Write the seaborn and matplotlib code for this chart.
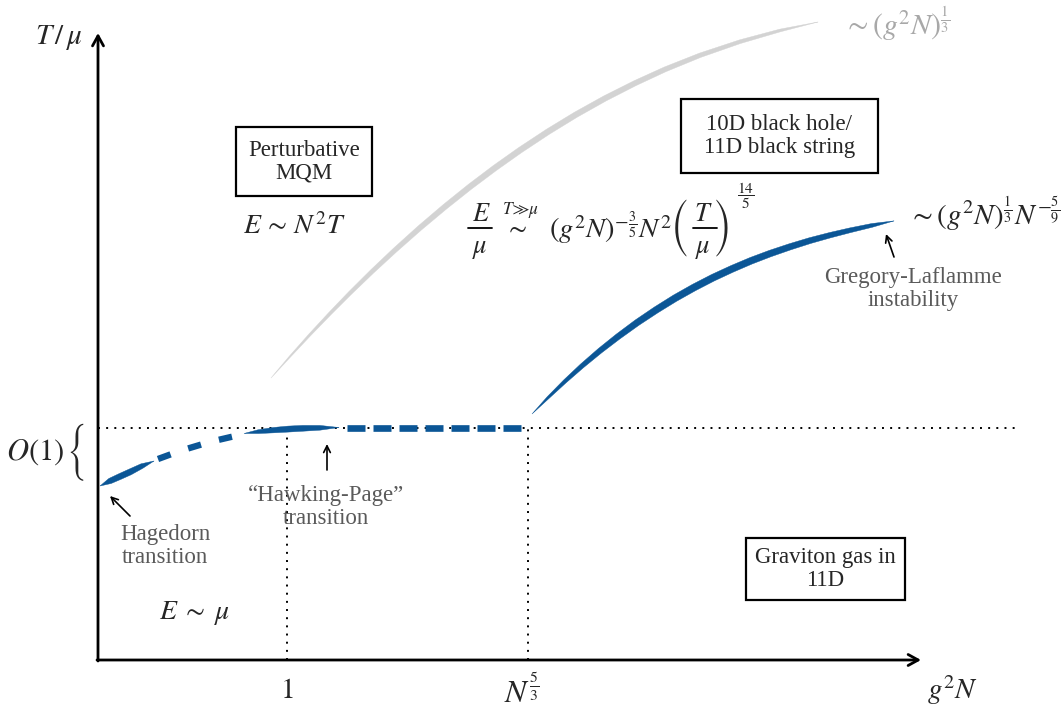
import numpy as np
import matplotlib
matplotlib.use("Agg")
import matplotlib.pyplot as plt
from matplotlib.patches import Rectangle
import seaborn as sns

# ---------------- data (schematic units: origin at axis crossing) ----------------
# gray branch ~ (g^2N)^{1/3}
gray_x = [173, 192, 212, 232, 252, 274, 297, 322, 347, 372, 397, 422, 450, 478, 507, 537, 567, 602, 642, 682, 720]
gray_y = [282, 303.5, 325.4, 346.5, 366.9, 388.4, 409.9, 432.2, 453.3, 473.3, 492.1, 509.8, 528.3, 545.4,
          561.6, 576.8, 590.6, 604.7, 618.3, 629.5, 638]

# blue black-hole branch up to the Gregory-Laflamme point
bh_x = [434, 450, 467, 484, 502, 520, 539, 558, 577, 596, 615, 634, 653, 672, 692, 712, 732, 752, 774, 796]
bh_y = [246, 262.3, 278.7, 294.1, 309.3, 323.4, 337.3, 350, 361.8, 372.5, 382.3, 391.1, 399.2, 406.4,
        413.2, 419.4, 424.8, 429.7, 434.6, 439.1]

# Hagedorn curve pieces
hag1_x = [2, 12, 22, 32, 44, 56]
hag1_y = [174, 179, 183.5, 188, 194, 199]
hag_dash_x = [60, 75, 90, 105, 120, 135, 146]
hag_dash_y = [201, 206.5, 211.5, 216, 220, 223.5, 226]
hag2_x = [146, 160, 175, 190, 205, 222, 241]
hag2_y = [226.5, 228.3, 229.8, 230.9, 231.7, 232.2, 232.5]
hp_dash_x = [249, 424]
hp_dash_y = [232, 232]

# reference lines
o1_level = 232
o1_line_x = [0, 917]
one_x = 189
n53_x = 430

x_tick_pos = [189, 424]
x_tick_labels = [r"$1$", r"$N^{\frac{5}{3}}$"]

BLUE = "#0b5696"
LGRAY = "#d3d3d3"
TGRAY = "#5a5a5a"

sns.set_theme(style="white")
plt.rcParams["font.family"] = ["Liberation Serif", "DejaVu Serif"]
plt.rcParams["mathtext.fontset"] = "stix"

fig = plt.figure(figsize=(10.62, 7.13), dpi=100)
ax = fig.add_axes([0, 0, 1, 1])
ax.set_xlim(-98, 964)
ax.set_ylim(-53, 660)
ax.axis("off")


def tapered(ax, xs, ys, wmax, color, p0=0.6, p1=0.6, z=3):
    xs = np.asarray(xs, float)
    ys = np.asarray(ys, float)
    seg = np.hypot(np.diff(xs), np.diff(ys))
    s = np.concatenate([[0], np.cumsum(seg)])
    t = s / s[-1]
    prof = np.where(t < 0.5, np.sin(np.pi * t) ** p0, np.sin(np.pi * t) ** p1)
    w = wmax * prof / 2.0
    dx = np.gradient(xs)
    dy = np.gradient(ys)
    n = np.hypot(dx, dy)
    nx, ny = -dy / n, dx / n
    px = np.concatenate([xs + nx * w, (xs - nx * w)[::-1]])
    py = np.concatenate([ys + ny * w, (ys - ny * w)[::-1]])
    ax.fill(px, py, color=color, lw=0.3, ec=color, zorder=z)


# dotted reference lines
sns.lineplot(x=o1_line_x, y=[o1_level, o1_level], ax=ax, color="black",
             linewidth=1.4, linestyle=(0, (1, 3.2)), estimator=None, sort=False, zorder=1)
for vx in (one_x, n53_x):
    sns.lineplot(x=[vx, vx], y=[0, o1_level], ax=ax, color="black",
                 linewidth=1.4, linestyle=(0, (1, 3.2)), estimator=None, sort=False, zorder=1)

# curves
tapered(ax, gray_x, gray_y, 5.8, LGRAY, p0=0.7, p1=0.45, z=2)
tapered(ax, bh_x, bh_y, 7.0, BLUE, p0=0.6, p1=0.35)
tapered(ax, hag1_x, hag1_y, 6.0, BLUE, p0=0.15, p1=0.5)
tapered(ax, hag2_x, hag2_y, 6.0, BLUE, p0=0.6, p1=0.45)
sns.lineplot(x=hag_dash_x, y=hag_dash_y, ax=ax, color=BLUE, linewidth=4.6,
             linestyle=(5, (2.1, 2.9)), estimator=None, sort=False, zorder=3)
sns.lineplot(x=hp_dash_x, y=hp_dash_y, ax=ax, color=BLUE, linewidth=4.8,
             linestyle=(0, (2.7, 1.2)), estimator=None, sort=False, zorder=3)

# axes arrows
ax.annotate("", xy=(0, 627), xytext=(0, -1),
            arrowprops=dict(arrowstyle="->,head_length=0.6,head_width=0.33", lw=2.0, color="black",
                            shrinkA=0, shrinkB=0))
ax.annotate("", xy=(823, 0), xytext=(-1, 0),
            arrowprops=dict(arrowstyle="->,head_length=0.6,head_width=0.33", lw=2.0, color="black",
                            shrinkA=0, shrinkB=0))

TS = 16.5
BIG = ["STIXSizeTwoSym", "DejaVu Serif"]

ax.text(-39, 623, r"$T\,/\,\mu$", fontsize=21, ha="center", va="center")
ax.text(855, -30, r"$g^2N$", fontsize=21, ha="center", va="center")
ax.text(x_tick_pos[0], -31, x_tick_labels[0], fontsize=21, ha="center", va="center")
ax.text(x_tick_pos[1], -32, x_tick_labels[1], fontsize=23, ha="center", va="center")

ax.text(-63, 208, r"$O(1)$", fontsize=22, ha="center", va="center")
ax.text(-21, 208, "{", fontsize=22, family=BIG, ha="center", va="center")

# boxes
def box(cx, cy, w, h):
    ax.add_patch(Rectangle((cx - w / 2, cy - h / 2), w, h, fill=False, ec="black", lw=1.6, zorder=4))

box(206, 498.5, 136, 69)
ax.text(206, 498.5, "Perturbative\nMQM", fontsize=TS, ha="center", va="center", linespacing=1.12)
ax.text(196, 433, r"$E\,\sim\,N^2T$", fontsize=20, ha="center", va="center")

box(681.5, 524, 197, 74)
ax.text(681.5, 524, "10D black hole/\n11D black string", fontsize=TS, ha="center", va="center",
        linespacing=1.12)

# E/mu  ~^{T>>mu}  (g^2N)^{-3/5} N^2 (T/mu)^{14/5}
FS = 19
ax.text(383, 445, r"$E$", fontsize=FS, ha="center", va="center")
ax.plot([370, 394], [432, 432], color="black", lw=1.3)
ax.text(382, 410, r"$\mu$", fontsize=FS, ha="center", va="center")
ax.text(423, 450, r"$T\!\gg\!\mu$", fontsize=12.5, ha="center", va="center")
ax.text(418, 431, r"$\sim$", fontsize=FS, ha="center", va="center")
ax.text(451, 422, r"$(g^2N)^{-\frac{3}{5}}N^2$", fontsize=20.5, ha="left", va="baseline")
ax.text(582, 432, "(", fontsize=22, family=BIG, ha="center", va="center")
ax.text(605, 445, r"$T$", fontsize=FS, ha="center", va="center")
ax.plot([595, 619], [432, 432], color="black", lw=1.3)
ax.text(605, 410, r"$\mu$", fontsize=FS, ha="center", va="center")
ax.text(624, 432, ")", fontsize=22, family=BIG, ha="center", va="center")
ax.text(648, 464, r"$\dfrac{14}{5}$", fontsize=11, ha="center", va="center")

ax.text(810, 446, r"$\sim (g^2N)^{\frac{1}{3}}N^{-\frac{5}{9}}$", fontsize=21, ha="left", va="center")
ax.text(815, 371, "Gregory-Laflamme\ninstability", fontsize=TS, ha="center", va="center",
        color=TGRAY, linespacing=1.1)
ax.annotate("", xy=(788, 426), xytext=(796, 403),
            arrowprops=dict(arrowstyle="->", lw=1.2, color="black", shrinkA=0, shrinkB=0))

ax.text(745, 636, r"$\sim (g^2N)^{\frac{1}{3}}$", fontsize=21.5, ha="left", va="center", color="#a8a8a8")

ax.text(67, 114, "Hagedorn\ntransition", fontsize=TS, ha="center", va="center",
        color=TGRAY, linespacing=1.1)
ax.annotate("", xy=(12, 164), xytext=(32, 144),
            arrowprops=dict(arrowstyle="->", lw=1.2, color="black", shrinkA=0, shrinkB=0))

ax.text(228, 153, "\u201cHawking-Page\u201d\ntransition", fontsize=TS, ha="center", va="center",
        color=TGRAY, linespacing=1.1)
ax.annotate("", xy=(229, 216), xytext=(229, 190),
            arrowprops=dict(arrowstyle="->", lw=1.2, color="black", shrinkA=0, shrinkB=0))

box(727.5, 91, 159, 62)
ax.text(727.5, 91, "Graviton gas in\n11D", fontsize=TS, ha="center", va="center", linespacing=1.1)
ax.text(96, 47, r"$E\;\sim\;\mu$", fontsize=20, ha="center", va="center")

fig.savefig("out.png", dpi=100)
